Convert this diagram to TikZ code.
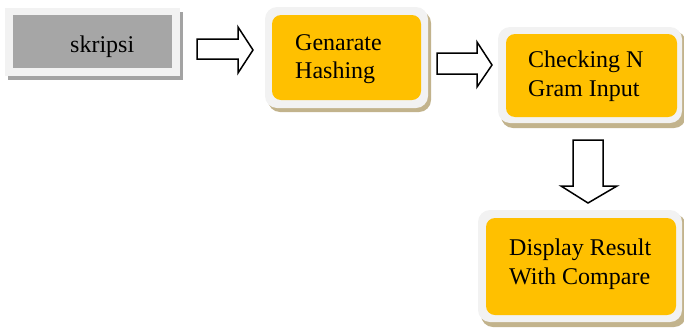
\documentclass[tikz,border=0pt]{standalone}
\usepackage{fontspec}
\setmainfont{Liberation Serif}
\definecolor{boxorange}{HTML}{FFC000}
\definecolor{framegray}{HTML}{F2F2F2}
\definecolor{tanshadow}{HTML}{C2B38C}
\definecolor{graycore}{HTML}{A6A6A6}
\definecolor{grayshadow}{HTML}{A3A3A3}
\begin{document}
\begin{tikzpicture}[x=1pt,y=-1pt,
  shadowbox/.style={fill=tanshadow, rounded corners=12pt},
  framebox/.style={fill=framegray, rounded corners=12pt},
  corebox/.style={fill=boxorange, rounded corners=9pt},
  boxtext/.style={inner sep=0pt, font=\fontsize{24}{28.5}\selectfont, align=left},
  blockarrow/.style={draw=black, line width=1.5pt, fill=white, line join=miter}]
\useasboundingbox (0,0) rectangle (684,327);

% skripsi box
\fill[grayshadow] (8,12) rectangle (183,80);
\fill[framegray] (5,8) rectangle (180,76);
\fill[graycore] (13,15) rectangle (172,68);
\node[boxtext, anchor=base west] (skripsi) at (70,52) {skripsi};

% Genarate Hashing box
\fill[shadowbox] (268,11) rectangle (431,112);
\fill[framebox] (265,7) rectangle (428,108);
\fill[corebox] (272,15) rectangle (421,100);
\node[boxtext, anchor=north west] (hash) at (295,34) {Genarate\\Hashing};

% Checking N Gram Input box
\fill[shadowbox] (501,31) rectangle (686,128);
\fill[framebox] (498,27) rectangle (682,123);
\fill[corebox] (506,34) rectangle (677,117);
\node[boxtext, anchor=north west] (ngram) at (528,51) {Checking N\\Gram Input};

% Display Result box
\fill[shadowbox] (481,214) rectangle (686,327);
\fill[framebox] (478,210) rectangle (682,322);
\fill[corebox] (486,218) rectangle (676,315);
\node[boxtext, anchor=north west] (display) at (509,239) {Display Result\\With Compare};

% block arrows
\draw[blockarrow] (197,39) -- (238,39) -- (238,27) -- (253,50) -- (238,73) -- (238,59) -- (197,59) -- cycle;
\draw[blockarrow] (437,53) -- (477,53) -- (477,42) -- (492,65) -- (477,87) -- (477,74) -- (437,74) -- cycle;
\draw[blockarrow] (573,140) -- (603,140) -- (603,186) -- (617,186) -- (588,203) -- (561,186) -- (573,186) -- cycle;
\end{tikzpicture}
\end{document}
